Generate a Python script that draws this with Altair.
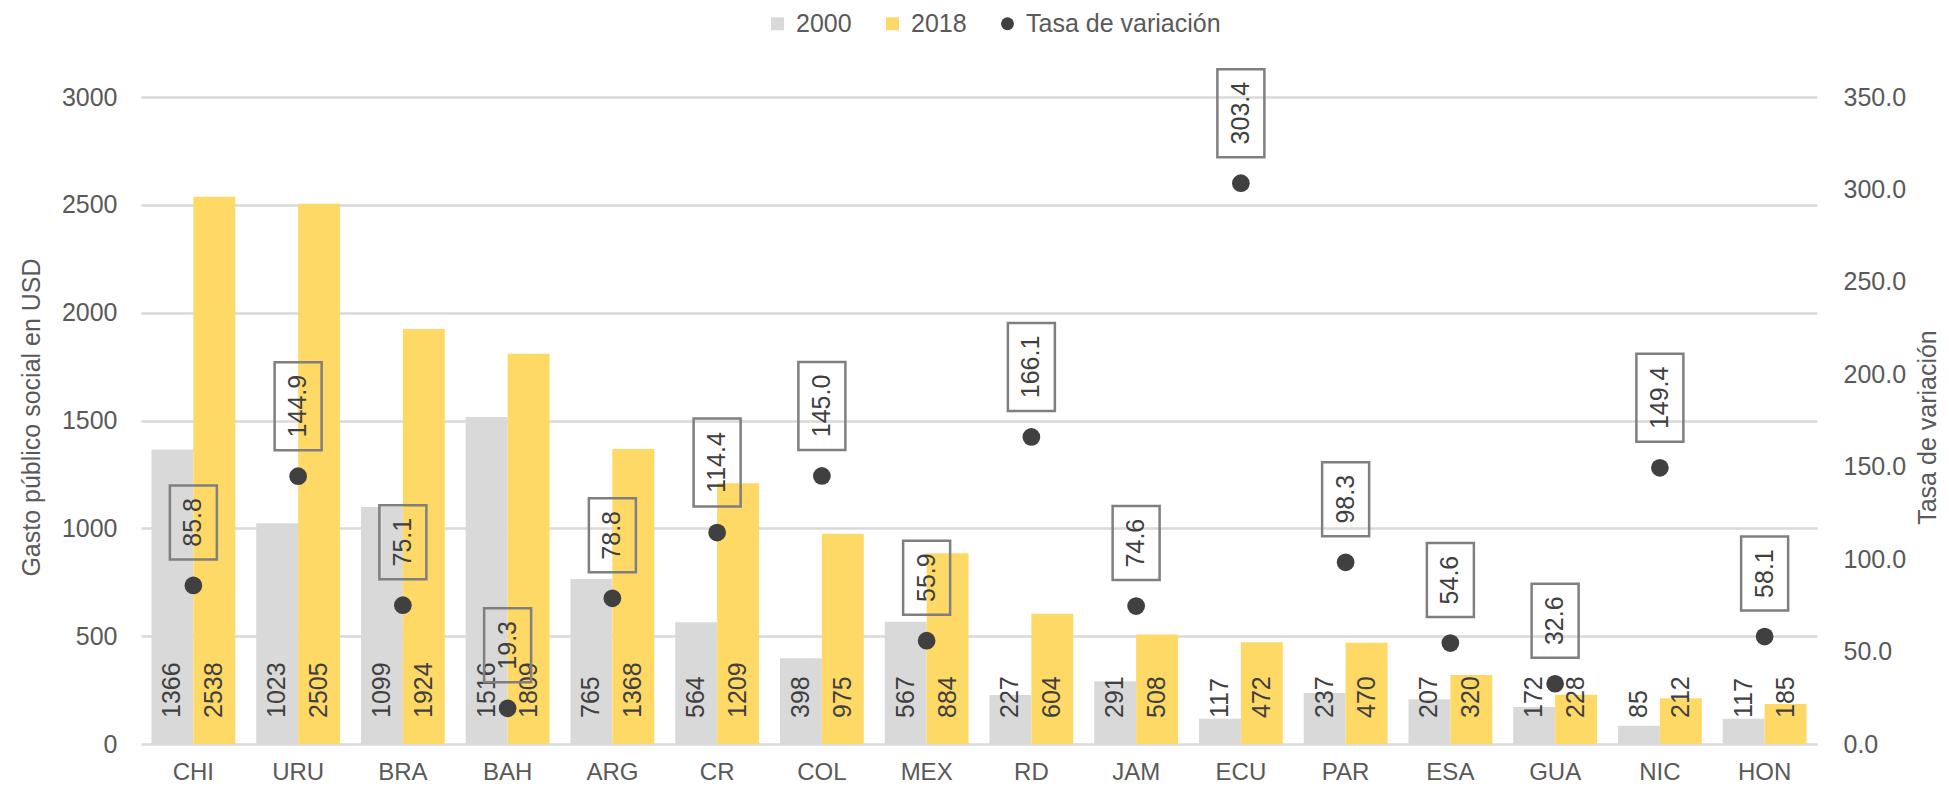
import altair as alt
import pandas as pd

paises = ["CHI", "URU", "BRA", "BAH", "ARG", "CR", "COL", "MEX",
          "RD", "JAM", "ECU", "PAR", "ESA", "GUA", "NIC", "HON"]
gasto_2000 = [1366, 1023, 1099, 1516, 765, 564, 398, 567,
              227, 291, 117, 237, 207, 172, 85, 117]
gasto_2018 = [2538, 2505, 1924, 1809, 1368, 1209, 975, 884,
              604, 508, 472, 470, 320, 228, 212, 185]
tasa = [85.8, 144.9, 75.1, 19.3, 78.8, 114.4, 145.0, 55.9,
        166.1, 74.6, 303.4, 98.3, 54.6, 32.6, 149.4, 58.1]
series = ["2000", "2018", "Tasa de variación"]
colores = ["#d9d9d9", "#ffd966", "#404040"]
formas = ["square", "square", "circle"]
ticks_izq = [0, 500, 1000, 1500, 2000, 2500, 3000]
ticks_der = [0, 50, 100, 150, 200, 250, 300, 350]

bars_df = pd.DataFrame({
    "pais": paises * 2,
    "serie": ["2000"] * len(paises) + ["2018"] * len(paises),
    "valor": gasto_2000 + gasto_2018,
})
tasa_df = pd.DataFrame({"pais": paises, "tasa": tasa,
                        "serie": ["Tasa de variación"] * len(paises)})

FONT = "Liberation Sans"
FS = 25
TXT = "#595959"
DARK = "#404040"

x = alt.X("pais:N", sort=paises,
          scale=alt.Scale(paddingInner=0.2, paddingOuter=0.1),
          axis=alt.Axis(title=None, labelAngle=0, ticks=False, domain=False,
                        labelPadding=16, labelFontSize=24, labelColor=TXT,
                        labelFont=FONT, grid=False))
xoff = alt.XOffset("serie:N", sort=["2000", "2018"])

leg = alt.Legend(title=None, orient="none", legendX=624, legendY=-86,
                 direction="horizontal", labelFontSize=FS, labelFont=FONT,
                 labelColor=TXT, symbolSize=169, labelOffset=6, labelLimit=400,
                 columnPadding=28, symbolStrokeWidth=0, padding=0)
color = alt.Color("serie:N", scale=alt.Scale(domain=series, range=colores), legend=leg)
shape = alt.Shape("serie:N", scale=alt.Scale(domain=series, range=formas), legend=leg)

y_left = alt.Y("valor:Q", scale=alt.Scale(domain=[0, 3000], nice=False),
               axis=alt.Axis(values=ticks_izq, format="d", ticks=False, domain=False,
                             labelPadding=24, labelFontSize=FS, labelFont=FONT,
                             labelColor=TXT, grid=True, gridColor="#d9d9d9",
                             gridWidth=2.5, title="Gasto público social en USD",
                             titleFontSize=FS, titleFont=FONT, titleColor=TXT,
                             titleFontWeight="normal", titleAngle=270,
                             titleAlign="center", titleBaseline="middle",
                             titleX=-110, titleY=320))

y_right = alt.Y("tasa:Q", scale=alt.Scale(domain=[0, 350], nice=False),
                axis=alt.Axis(orient="right", values=ticks_der, format=".1f",
                              ticks=False, domain=False, grid=False,
                              labelPadding=26, labelFontSize=FS, labelFont=FONT,
                              labelColor=TXT, title="Tasa de variación",
                              titleFontSize=FS, titleFont=FONT, titleColor=TXT,
                              titleFontWeight="normal", titleAngle=270,
                              titleAlign="center", titleBaseline="middle",
                              titleX=110, titleY=330))

bars = alt.Chart(bars_df).mark_bar().encode(x=x, xOffset=xoff, y=y_left, color=color)
bar_labels = alt.Chart(bars_df).mark_text(
    angle=270, align="left", baseline="middle", dx=26,
    fontSize=FS, font=FONT, color=DARK
).encode(x=x, xOffset=xoff, y=alt.YDatum(0), text=alt.Text("valor:Q"))

left = alt.layer(bars, bar_labels)

tasa_base = alt.Chart(tasa_df).transform_calculate(
    n="length(format(datum.tasa, '.1f'))")

layers = []
for n in (4, 5):
    extra = 14 * (n - 4)
    box = tasa_base.transform_filter(f"datum.n == {n}").mark_bar(
        width=47, fill="white", fillOpacity=0, stroke="#7f7f7f",
        strokeWidth=2.5, yOffset=-26, y2Offset=-(100 + extra)
    ).encode(x=x, y=y_right, y2=alt.Y2("tasa:Q"))
    layers.append(box)

dots = alt.Chart(tasa_df).mark_point(filled=True, size=314, opacity=1).encode(
    x=x, y=y_right, color=color, shape=shape)
layers.append(dots)

for n in (4, 5):
    extra = 7 * (n - 4)
    txt = tasa_base.transform_filter(f"datum.n == {n}").mark_text(
        angle=270, align="center", baseline="middle", dx=63 + extra,
        fontSize=FS, font=FONT, color=DARK
    ).encode(x=x, y=y_right, text=alt.Text("tasa:Q", format=".1f"))
    layers.append(txt)

right = alt.layer(*layers)

chart = alt.layer(left, right).resolve_scale(y="independent").properties(
    width=1676, height=647,
    padding={"left": 133, "top": 89, "right": 124, "bottom": 44},
    autosize=alt.AutoSizeParams(type="none"),
).configure_view(stroke=None)

chart.save("out.html", embed_options={"renderer": "svg", "actions": False})
